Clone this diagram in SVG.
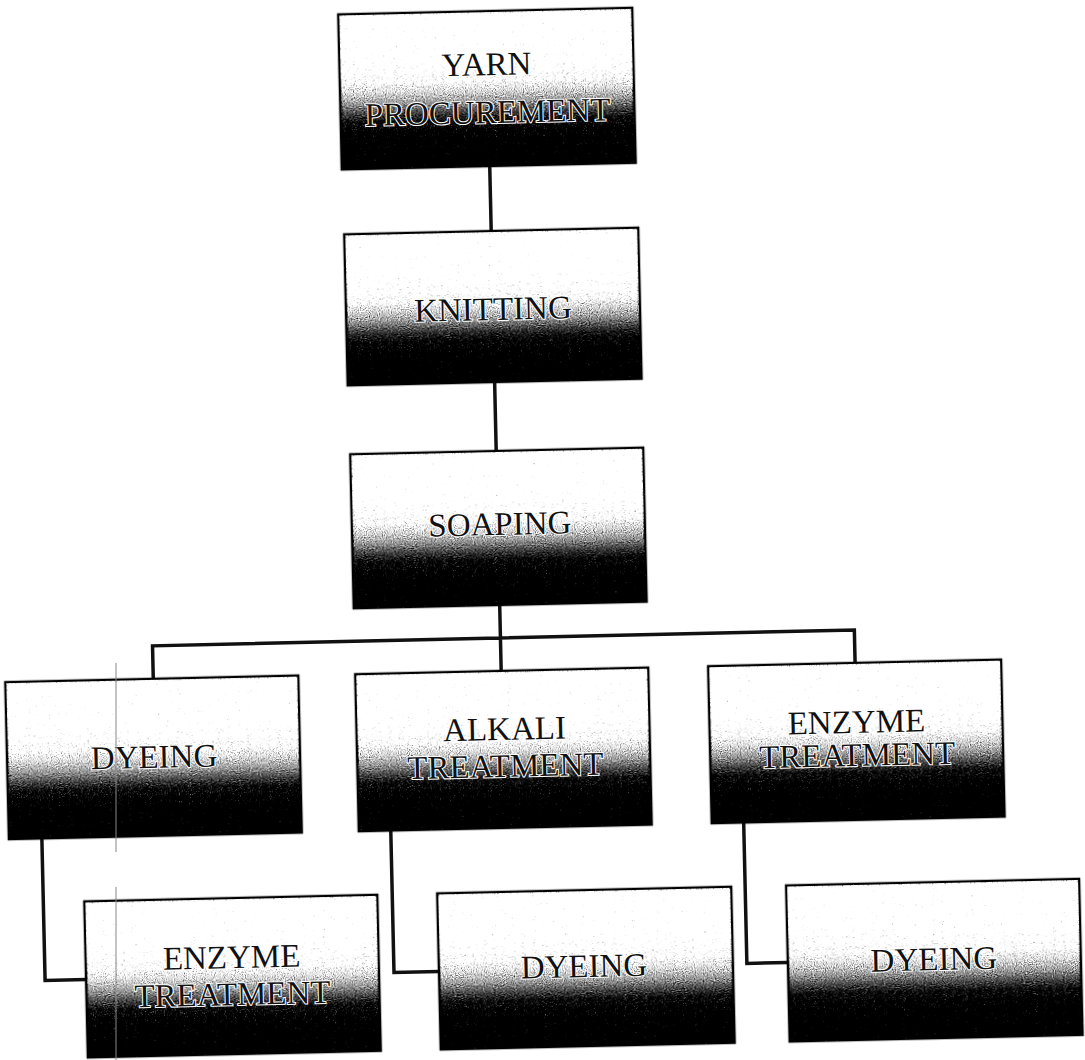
<svg xmlns="http://www.w3.org/2000/svg" width="1085" height="1060" viewBox="0 0 1085 1060">
  <defs>
    <linearGradient id="shade" x1="0" y1="0" x2="0" y2="1">
      <stop offset="0" stop-color="#ffffff"/>
      <stop offset="0.28" stop-color="#f8f8f8"/>
      <stop offset="0.44" stop-color="#d2d2d2"/>
      <stop offset="0.58" stop-color="#8e8e8e"/>
      <stop offset="0.7" stop-color="#3e3e3e"/>
      <stop offset="0.82" stop-color="#161616"/>
      <stop offset="1" stop-color="#0a0a0a"/>
    </linearGradient>
    <filter id="grain" x="-0.02" y="-0.02" width="1.04" height="1.04" color-interpolation-filters="sRGB">
      <feTurbulence type="fractalNoise" baseFrequency="0.9" numOctaves="1" seed="7" result="noise"/>
      <feColorMatrix in="noise" type="matrix" values="0.33 0.33 0.33 0 0  0.33 0.33 0.33 0 0  0.33 0.33 0.33 0 0  0 0 0 0 1" result="gray"/>
      <feComposite in="SourceGraphic" in2="gray" operator="arithmetic" k1="0" k2="1" k3="1.6" k4="-0.8" result="mix"/>
      <feComponentTransfer in="mix" result="thr">
        <feFuncR type="linear" slope="2" intercept="-0.5"/>
        <feFuncG type="linear" slope="2" intercept="-0.5"/>
        <feFuncB type="linear" slope="2" intercept="-0.5"/>
      </feComponentTransfer>
      <feComposite in="thr" in2="SourceGraphic" operator="in"/>
    </filter>
  </defs>
  <style>
    .box { fill: url(#shade); stroke: #111; stroke-width: 2.5; filter: url(#grain); }
    .lbl { font-family: "Liberation Serif", "Times New Roman", serif; font-size: 33px; fill: #111; stroke: #fff; stroke-width: 2; paint-order: stroke; text-anchor: middle; }
    .conn { fill: none; stroke: #111; stroke-width: 3.5; stroke-linejoin: miter; }
    .artifact { stroke: #888; stroke-width: 1; fill: none; }
  </style>
  <rect width="1085" height="1060" fill="#fff"/>
  <g transform="rotate(-1.3 542 530)">
    <g id="connectors">
      <path class="conn" d="M498 165 V230"/>
      <path class="conn" d="M498 381 V450"/>
      <path class="conn" d="M498 604 V637 M150 670 V637 H852 V670 M498 637 V670"/>
      <path class="conn" d="M35 827 V969 H76"/>
      <path class="conn" d="M384 827 V969 H429"/>
      <path class="conn" d="M737 827 V968 H778"/>
    </g>
    <g id="yarn">
      <rect class="box" x="350" y="10" width="294" height="155"/>
      <text class="lbl" x="497" y="74">YARN</text>
      <text class="lbl" x="497" y="122">PROCUREMENT</text>
    </g>
    <g id="knitting">
      <rect class="box" x="351" y="230" width="294" height="151"/>
      <text class="lbl" x="498" y="319">KNITTING</text>
    </g>
    <g id="soaping">
      <rect class="box" x="352" y="450" width="293" height="154"/>
      <text class="lbl" x="500" y="534">SOAPING</text>
    </g>
    <g id="dyeing1">
      <rect class="box" x="2" y="670" width="293" height="157"/>
      <text class="lbl" x="149" y="759">DYEING</text>
    </g>
    <g id="alkali">
      <rect class="box" x="352" y="670" width="293" height="157"/>
      <text class="lbl" x="500" y="739">ALKALI</text>
      <text class="lbl" x="500" y="776">TREATMENT</text>
    </g>
    <g id="enzyme1">
      <rect class="box" x="705" y="670" width="293" height="157"/>
      <text class="lbl" x="852" y="740">ENZYME</text>
      <text class="lbl" x="852" y="773">TREATMENT</text>
    </g>
    <g id="enzyme2">
      <rect class="box" x="76" y="891" width="293" height="156"/>
      <text class="lbl" x="222" y="961">ENZYME</text>
      <text class="lbl" x="222" y="998">TREATMENT</text>
    </g>
    <g id="dyeing2">
      <rect class="box" x="429" y="891" width="294" height="156"/>
      <text class="lbl" x="574" y="978">DYEING</text>
    </g>
    <g id="dyeing3">
      <rect class="box" x="778" y="891" width="293" height="156"/>
      <text class="lbl" x="924" y="979">DYEING</text>
    </g>
  </g>
  <path class="artifact" d="M116 663 V852 M116 887 V1060"/>
</svg>
